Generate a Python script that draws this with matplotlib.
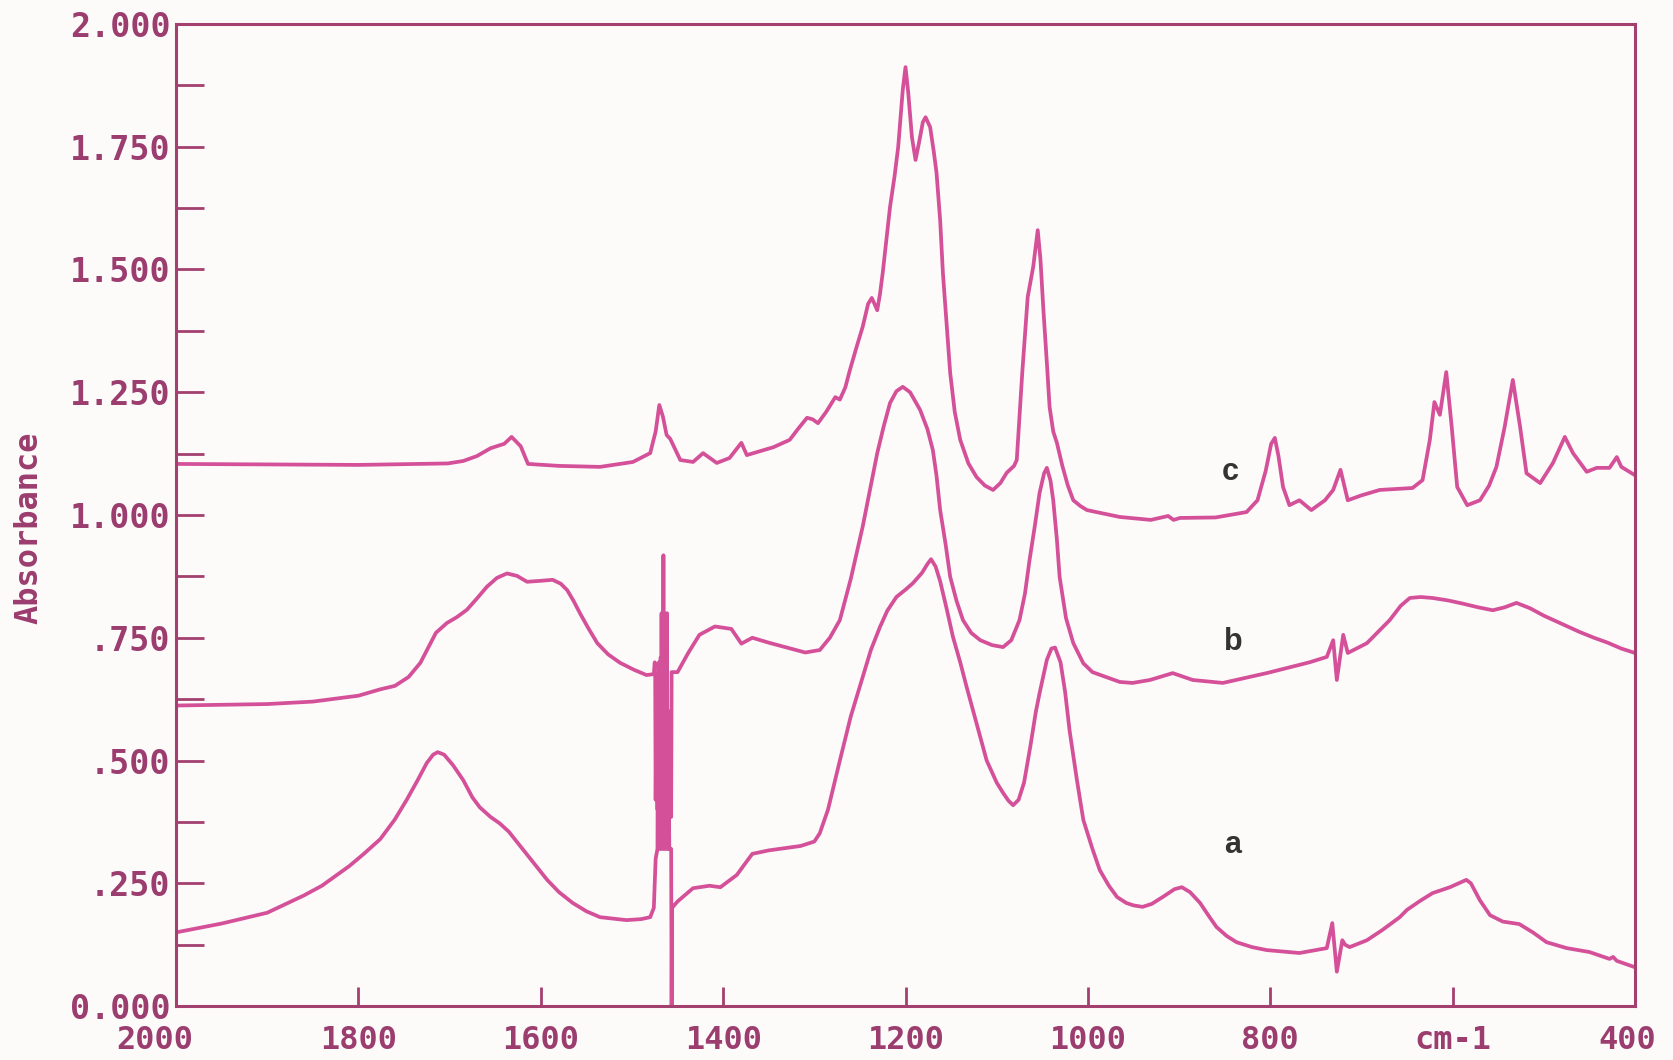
import matplotlib.pyplot as plt
from matplotlib.ticker import MultipleLocator
from matplotlib.transforms import ScaledTranslation

# spectrum a
wn_a = [2000, 1950, 1900, 1860, 1840, 1810, 1794, 1776, 1760, 1747, 1735, 1725, 1718, 1713,
        1706, 1696, 1685, 1675, 1667, 1655, 1645, 1635, 1620, 1605, 1593, 1580, 1565, 1550,
        1535, 1506, 1490, 1480, 1476, 1474,
        1472, 1471.5, 1471, 1470.5, 1470, 1469.5, 1469, 1468.5, 1468, 1467.5, 1467, 1466.5,
        1466, 1465.5, 1465, 1464.5, 1464, 1463.5, 1463, 1462.5, 1462, 1461.5, 1461, 1460.5,
        1460, 1459.5, 1459, 1457, 1456.5, 1456,
        1450, 1433, 1415, 1403, 1385, 1368, 1350, 1315, 1300, 1294, 1285, 1272, 1260, 1247,
        1238, 1228, 1220, 1210, 1200, 1192, 1182, 1176, 1172, 1167, 1162, 1155, 1148, 1140,
        1133, 1122, 1111, 1100, 1093, 1087, 1082, 1076, 1070, 1063, 1057, 1053, 1045, 1040,
        1036, 1030, 1025, 1020, 1012, 1005, 995, 987, 977, 968, 958, 950, 940, 930, 918, 905,
        897, 888, 877, 868, 859, 848, 837, 820, 804, 768, 738, 732,
        727, 721, 718, 713, 694, 677, 658, 650, 635, 622, 603, 585, 580, 570, 559, 545, 534,
        527, 512, 497, 475, 450, 428, 424, 420, 400]
abs_a = [0.150, 0.168, 0.19, 0.225, 0.245, 0.285, 0.31, 0.340, 0.38, 0.42, 0.46, 0.495, 0.512, 0.517,
         0.512, 0.49, 0.46, 0.425, 0.405, 0.385, 0.372, 0.355, 0.32, 0.285, 0.257, 0.232, 0.21, 0.193,
         0.181, 0.175, 0.177, 0.181, 0.20, 0.30,
         0.32, 0.68, 0.33, 0.70, 0.32, 0.62, 0.33, 0.71, 0.32, 0.80, 0.33, 0.78,
         0.32, 0.918, 0.33, 0.80, 0.32, 0.79, 0.34, 0.74, 0.32, 0.80, 0.33, 0.58,
         0.32, 0.42, 0.32, 0.32, 0.0, 0.20,
         0.213, 0.24, 0.245, 0.242, 0.267, 0.31, 0.317, 0.326, 0.335, 0.352, 0.40, 0.50, 0.59, 0.67,
         0.725, 0.772, 0.805, 0.833, 0.848, 0.861, 0.882, 0.900, 0.910, 0.895, 0.865, 0.81, 0.752, 0.70,
         0.65, 0.575, 0.50, 0.455, 0.434, 0.418, 0.409, 0.42, 0.455, 0.53, 0.60, 0.637, 0.705, 0.728,
         0.73, 0.70, 0.64, 0.56, 0.46, 0.379, 0.32, 0.277, 0.245, 0.222, 0.21, 0.205, 0.202, 0.208, 0.222, 0.238,
         0.242, 0.232, 0.21, 0.185, 0.161, 0.143, 0.13, 0.12, 0.114, 0.108, 0.118, 0.169,
         0.070, 0.134, 0.125, 0.12, 0.134, 0.155, 0.181, 0.196, 0.215, 0.23, 0.242, 0.257, 0.25, 0.215, 0.185, 0.172, 0.169,
         0.167, 0.15, 0.13, 0.118, 0.11, 0.096, 0.10, 0.092, 0.079]

# spectrum b
wn_b = [2000, 1900, 1850, 1800, 1776, 1760, 1745, 1732, 1722, 1715, 1703, 1692, 1681, 1670,
        1659, 1648, 1637, 1626, 1615, 1600, 1587, 1578, 1571, 1564, 1557, 1548, 1538, 1526,
        1513, 1498, 1484, 1476, 1475, 1474.5,
        1474, 1473, 1472, 1471, 1470, 1468, 1467, 1465, 1464, 1462, 1461, 1459, 1458, 1457, 1456.5,
        1450, 1438, 1426, 1409, 1391, 1380, 1368, 1350, 1330, 1310, 1294, 1283, 1272, 1260, 1247,
        1238, 1231, 1224, 1217, 1210, 1203, 1195, 1184, 1176, 1170, 1166, 1162, 1156, 1151, 1144,
        1137, 1128, 1118, 1105, 1093, 1084, 1075, 1069, 1064, 1058, 1053, 1048, 1045, 1041, 1038,
        1034, 1031, 1024, 1016, 1005, 995, 980, 965, 951, 932, 907, 885, 852, 804, 757, 738,
        731, 727, 720, 715, 694, 669, 657, 647, 635, 622, 605, 590, 572, 556, 543, 530, 515, 500,
        480, 461, 445, 430, 415, 400]
abs_b = [0.612, 0.615, 0.62, 0.632, 0.645, 0.652, 0.67, 0.699, 0.735, 0.76, 0.78, 0.792, 0.807, 0.83,
         0.854, 0.872, 0.881, 0.876, 0.864, 0.866, 0.868, 0.86, 0.847, 0.825, 0.80, 0.77, 0.739, 0.716,
         0.699, 0.685, 0.674, 0.676, 0.70, 0.672,
         0.42, 0.66, 0.40, 0.63, 0.41, 0.60, 0.40, 0.64, 0.40, 0.66, 0.42, 0.60, 0.40, 0.385, 0.68,
         0.68, 0.72, 0.756, 0.773, 0.768, 0.738, 0.75, 0.74, 0.73, 0.72, 0.725, 0.75, 0.786, 0.87, 0.976,
         1.06, 1.126, 1.18, 1.228, 1.252, 1.261, 1.25, 1.214, 1.175, 1.132, 1.08, 1.01, 0.94, 0.874, 0.825,
         0.786, 0.76, 0.745, 0.735, 0.731, 0.745, 0.786, 0.84, 0.908, 0.98, 1.045, 1.085, 1.096, 1.07, 1.03,
         0.95, 0.874, 0.79, 0.739, 0.698, 0.68, 0.67, 0.66, 0.658, 0.664, 0.678, 0.664, 0.658, 0.678, 0.70, 0.711,
         0.745, 0.664, 0.756, 0.719, 0.739, 0.786, 0.815, 0.831, 0.833, 0.831, 0.826, 0.82, 0.812, 0.806, 0.812, 0.821, 0.81, 0.795,
         0.778, 0.762, 0.75, 0.74, 0.728, 0.719]

# spectrum c
wn_c = [2000, 1800, 1702, 1685, 1670, 1655, 1640, 1632, 1622, 1614, 1580, 1535, 1499, 1480, 1474, 1470,
        1466, 1462, 1458, 1447, 1433, 1422, 1407, 1393, 1380, 1374, 1345, 1327, 1318, 1308, 1302, 1296,
        1287, 1277, 1272, 1266, 1261, 1254, 1247, 1241, 1237, 1234, 1231, 1228, 1225, 1221, 1217, 1212,
        1208, 1203, 1200, 1197, 1193, 1189, 1185, 1181, 1178, 1173, 1169, 1166, 1162, 1159, 1155, 1151,
        1146, 1140, 1131, 1122, 1113, 1104, 1096, 1089, 1081, 1078, 1075, 1072, 1066, 1060, 1057, 1055,
        1052, 1049, 1045, 1042, 1038, 1034, 1028, 1022, 1016, 1008, 1001, 965, 931, 912, 906, 899, 860,
        826, 814, 805, 799, 795, 791, 786, 779, 768, 755, 740, 731, 723, 715, 700, 680, 644, 633, 625, 620,
        614, 607, 601, 595, 584, 570, 560, 552, 543, 534, 526, 519, 504, 490, 477, 468, 453, 442, 428,
        420, 415, 400]
abs_c = [1.104, 1.102, 1.105, 1.11, 1.12, 1.136, 1.145, 1.159, 1.14, 1.104, 1.100, 1.098, 1.108, 1.126, 1.17, 1.224,
         1.20, 1.163, 1.155, 1.112, 1.108, 1.126, 1.106, 1.116, 1.147, 1.122, 1.138, 1.153, 1.175, 1.198, 1.195, 1.187,
         1.21, 1.24, 1.235, 1.26, 1.295, 1.34, 1.383, 1.43, 1.442, 1.43, 1.417, 1.45, 1.493, 1.56, 1.627, 1.69,
         1.75, 1.866, 1.912, 1.86, 1.77, 1.723, 1.76, 1.80, 1.81, 1.79, 1.74, 1.697, 1.60, 1.493, 1.39, 1.289,
         1.21, 1.153, 1.105, 1.077, 1.06, 1.051, 1.065, 1.086, 1.10, 1.112, 1.20, 1.289, 1.444, 1.505, 1.55, 1.58,
         1.52, 1.424, 1.31, 1.22, 1.17, 1.147, 1.10, 1.06, 1.03, 1.018, 1.01, 0.996, 0.99, 0.998, 0.99, 0.994, 0.995,
         1.006, 1.03, 1.09, 1.145, 1.157, 1.12, 1.057, 1.02, 1.03, 1.01, 1.03, 1.051, 1.092, 1.03, 1.04, 1.051, 1.055, 1.071, 1.153, 1.23,
         1.204, 1.291, 1.179, 1.057, 1.02, 1.03, 1.06, 1.098, 1.179, 1.275, 1.179, 1.085, 1.065, 1.106, 1.159, 1.126, 1.088, 1.096, 1.096,
         1.118, 1.098, 1.081]

x_ticks = [2000, 1800, 1600, 1400, 1200, 1000, 800, 600, 400]
x_labels = ['2000', '1800', '1600', '1400', '1200', '1000', '800', 'cm-1', '400']
y_ticks = [0.0, 0.25, 0.5, 0.75, 1.0, 1.25, 1.5, 1.75, 2.0]
y_labels = ['0.000', '.250', '.500', '.750', '1.000', '1.250', '1.500', '1.750', '2.000']

curve_labels = ['a', 'b', 'c']
label_x = [841, 841, 844]
label_y = [0.328, 0.741, 1.088]

line_col = '#d4519a'
axis_col = '#a3406f'
text_col = '#9b3d6e'
paper = '#fdfbf9'

fig = plt.figure(figsize=(16.73, 10.60), dpi=100, facecolor=paper)
ax = fig.add_axes([0.1052, 0.0509, 0.8721, 0.9265], facecolor=paper)

for wn, ab in [(wn_a, abs_a), (wn_b, abs_b), (wn_c, abs_c)]:
    ax.plot(wn, ab, color=line_col, lw=2.7, solid_joinstyle='round', solid_capstyle='round')

for lab, lx, ly in zip(curve_labels, label_x, label_y):
    ax.text(lx, ly, lab, fontsize=22, fontweight='bold', family='Liberation Sans',
            color='#333333', ha='center', va='center')

ax.set_xlim(2000, 400)
ax.set_ylim(0, 2.0)

for s in ax.spines.values():
    s.set_color(axis_col)
    s.set_linewidth(2.2)

mono = dict(family='DejaVu Sans Mono', fontweight='bold', color=text_col)
ax.set_xticks(x_ticks)
ax.set_xticklabels(x_labels, fontsize=23, **mono)
ax.set_yticks(y_ticks)
ax.set_yticklabels(y_labels, fontsize=24, **mono)
ax.yaxis.set_minor_locator(MultipleLocator(0.125))

ax.tick_params(axis='x', which='major', direction='in', length=14, width=2,
               color=axis_col, pad=14)
ax.tick_params(axis='y', which='both', direction='in', length=20, width=2,
               color=axis_col, pad=4)

# end labels sit a little left of their ticks
xt = ax.get_xticklabels()
xt[0].set_transform(xt[0].get_transform() + ScaledTranslation(-0.21, 0, fig.dpi_scale_trans))
xt[-1].set_transform(xt[-1].get_transform() + ScaledTranslation(-0.08, 0, fig.dpi_scale_trans))

ax.set_ylabel('Absorbance', fontsize=23, **mono)
ax.yaxis.set_label_coords(-0.090, 0.487)

fig.savefig('out.png', dpi=100, facecolor=paper)
